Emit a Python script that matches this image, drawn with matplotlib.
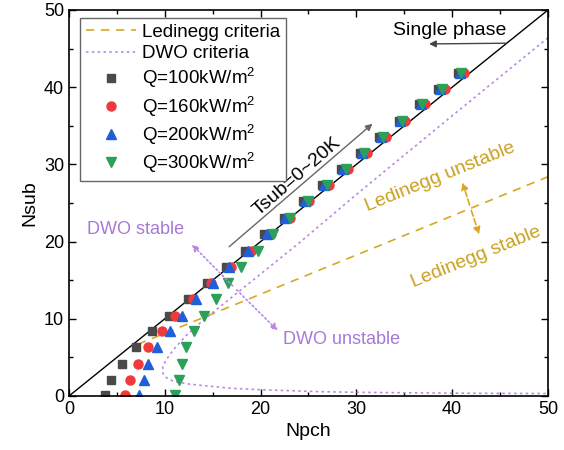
import matplotlib
matplotlib.use("Agg")
import matplotlib.pyplot as plt
from matplotlib.ticker import MultipleLocator

plt.rcParams["font.family"] = ["Liberation Sans", "DejaVu Sans"]
plt.rcParams["mathtext.default"] = "regular"

# subcooling levels (shared by all heat fluxes)
nsub = [0.1, 2.1, 4.1, 6.3, 8.4, 10.4, 12.5, 14.6, 16.7, 18.8, 21.0,
        23.1, 25.2, 27.3, 29.4, 31.5, 33.6, 35.6, 37.8, 39.8, 41.9]
npch_q100 = [3.8, 4.4, 5.5, 7.0, 8.7, 10.4, 12.4, 14.4, 16.4, 18.4, 20.4,
             22.4, 24.4, 26.4, 28.4, 30.4, 32.4, 34.4, 36.5, 38.5, 40.6]
npch_q160 = [5.9, 6.4, 7.2, 8.3, 9.7, 11.1, 12.9, 14.8, 16.9, 19.0, 21.1,
             23.1, 25.1, 27.1, 29.1, 31.1, 33.1, 35.1, 37.2, 39.2, 41.2]
npch_q200 = [7.3, 7.8, 8.3, 9.2, 10.5, 11.8, 13.3, 15.0, 16.7, 18.7, 20.7,
             22.6, 24.6, 26.6, 28.6, 30.6, 32.6, 34.6, 36.7, 38.7, 40.8]
npch_q300 = [11.1, 11.5, 11.8, 12.2, 13.0, 14.1, 15.3, 16.6, 18.0, 19.7, 21.3,
             23.1, 25.0, 26.9, 28.9, 30.8, 32.8, 34.8, 36.9, 38.9, 40.9]

# zero-quality (single phase) line
zq_x = [0, 50]
zq_y = [0, 50]

# Ledinegg criteria
led_x = [7.2, 50]
led_y = [6.7, 28.4]

# DWO criteria
dwo_x = [50, 40, 30, 24, 20, 16.6, 14.0, 12.2, 10.9, 10.1, 9.8, 9.8, 10.0,
         10.9, 12.5, 14.4, 17.0, 20.3, 26.2, 30, 35, 40, 45, 50]
dwo_y = [46.4, 36.3, 26.1, 19.8, 15.8, 12.4, 9.8, 7.8, 6.0, 4.6, 3.8, 3.0, 2.5,
         1.9, 1.55, 1.3, 1.0, 0.8, 0.56, 0.48, 0.42, 0.37, 0.34, 0.32]

gold = "#d8a824"
gold_txt = "#c9a020"
purple = "#b988e0"
purple_txt = "#a679d8"

fig = plt.figure(figsize=(5.64, 4.5), dpi=100)
ax = fig.add_axes([0.1223, 0.12, 0.8493, 0.8578])

ax.plot(zq_x, zq_y, color="black", lw=1.0)
ax.plot(led_x, led_y, color=gold, lw=1.2, ls=(0, (5, 4)), label="Ledinegg criteria")
ax.plot(dwo_x, dwo_y, color=purple, lw=1.2, ls=(0, (1.5, 2)), label="DWO criteria")

ax.plot(npch_q100, nsub, "s", color="#4a4a4a", ms=6, label="Q=100kW/m$^2$")
ax.plot(npch_q160, nsub, "o", color="#f03a3a", ms=6.5, label="Q=160kW/m$^2$")
ax.plot(npch_q200, nsub, "^", color="#1f5fd8", ms=7, label="Q=200kW/m$^2$")
ax.plot(npch_q300, nsub, "v", color="#2aa05a", ms=7, label="Q=300kW/m$^2$")

# annotations
ax.text(39.7, 47.3, "Single phase", fontsize=14, ha="center", va="center")
ax.annotate("", xy=(37.3, 45.6), xytext=(45.9, 45.7),
            arrowprops=dict(arrowstyle="-|>", color="#444444", lw=1.0))

ax.annotate("", xy=(31.9, 35.5), xytext=(16.5, 19.1),
            arrowprops=dict(arrowstyle="-|>", color="#666666", lw=1.0))
ax.text(23.8, 28.4, "Tsub=0~20K", fontsize=14, ha="center", va="center",
        rotation=41, rotation_mode="anchor")

ax.text(7.0, 21.6, "DWO stable", fontsize=13, color=purple_txt, ha="center", va="center")
ax.text(22.3, 7.3, "DWO unstable", fontsize=13, color=purple_txt, ha="left", va="center")
for end in [(12.6, 19.9), (22.0, 8.2)]:
    ax.annotate("", xy=end, xytext=(17.3, 14.0),
                arrowprops=dict(arrowstyle="-|>", color=purple, lw=1.2, ls=":"))

ax.text(38.7, 28.4, "Ledinegg unstable", fontsize=14, color=gold_txt, ha="center",
        va="center", rotation=22, rotation_mode="anchor")
ax.text(42.5, 18.0, "Ledinegg stable", fontsize=14, color=gold_txt, ha="center",
        va="center", rotation=22, rotation_mode="anchor")
for end in [(41.0, 28.0), (42.9, 20.6)]:
    ax.annotate("", xy=end, xytext=(41.9, 24.4),
                arrowprops=dict(arrowstyle="-|>", color=gold, lw=1.2, ls="--"))

ax.set_xlim(0, 50)
ax.set_ylim(0, 50)
ax.xaxis.set_major_locator(MultipleLocator(10))
ax.yaxis.set_major_locator(MultipleLocator(10))
ax.xaxis.set_minor_locator(MultipleLocator(5))
ax.yaxis.set_minor_locator(MultipleLocator(5))
ax.tick_params(which="both", direction="in", top=True, right=True, labelsize=13)
ax.tick_params(which="major", length=5, width=1)
ax.tick_params(which="minor", length=3, width=1)
for sp in ax.spines.values():
    sp.set_linewidth(1.2)

ax.set_xlabel("Npch", fontsize=14)
ax.set_ylabel("Nsub", fontsize=14)

leg = ax.legend(loc="upper left", bbox_to_anchor=(0.023, 0.979), borderaxespad=0,
                fontsize=13.5, fancybox=False, edgecolor="#666666", framealpha=1,
                handlelength=2.7, labelspacing=0.22, handletextpad=0.3,
                borderpad=0.3)
leg.get_frame().set_linewidth(1.0)

fig.savefig("out.png", dpi=100)
